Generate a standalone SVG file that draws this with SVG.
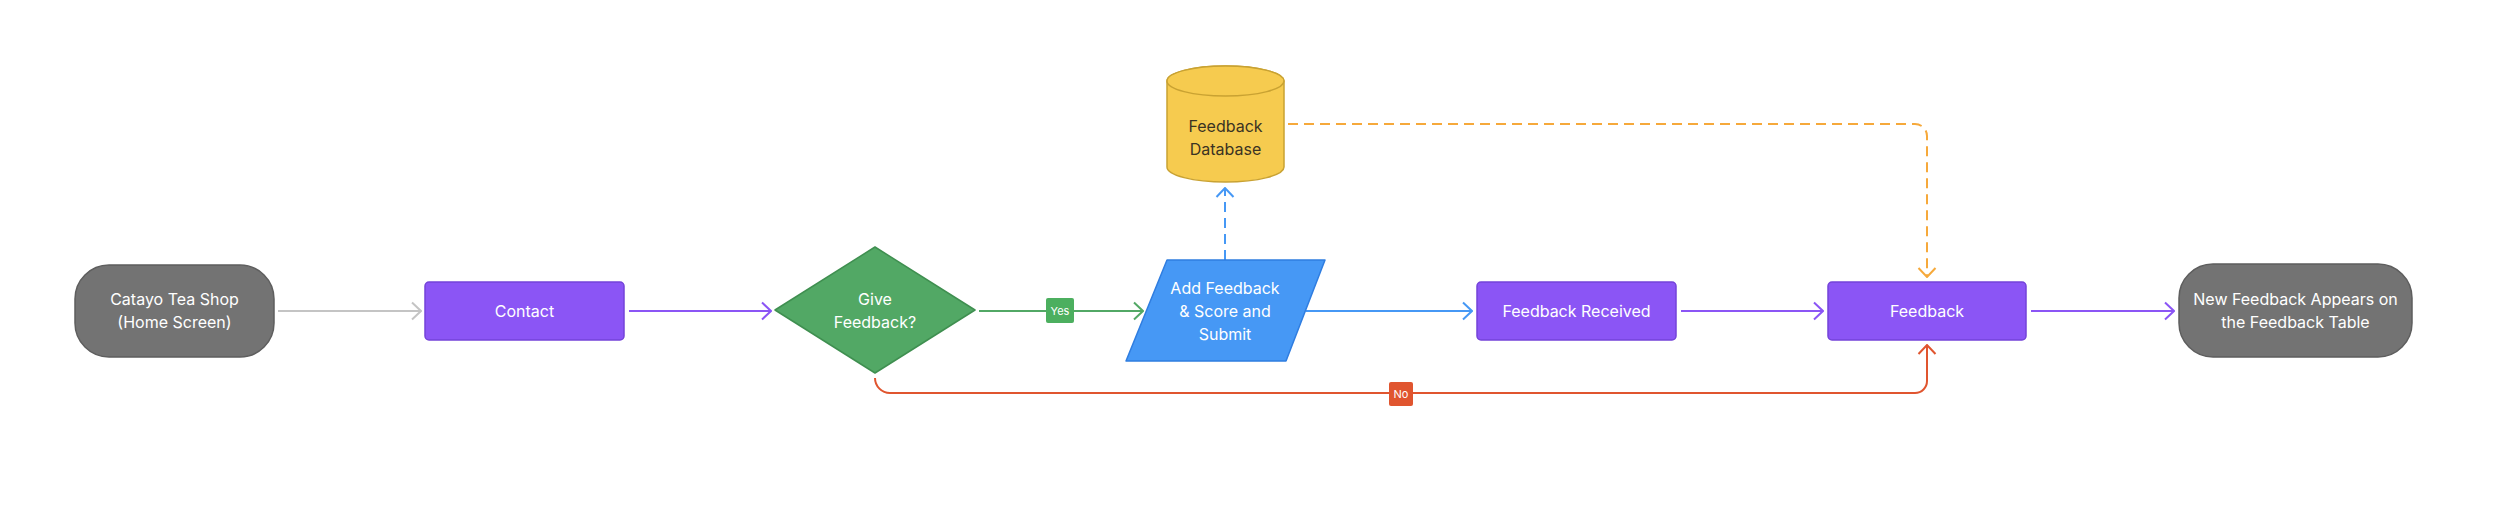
<svg xmlns="http://www.w3.org/2000/svg" width="2500" height="528" viewBox="0 0 2500 528">
<style>
  .bg { fill: #ffffff; }
  .t { font-family: Inter, "Liberation Sans", sans-serif; font-size: 16px; fill: #ffffff; text-anchor: middle; }
  .tdark { fill: #3b3323; }
  .lbl { font-family: Inter, "Liberation Sans", sans-serif; font-size: 11px; fill: #ffffff; text-anchor: middle; }
  .term { fill: #737373; stroke: #5e5e5e; stroke-width: 1.5; }
  .proc { fill: #8b55f5; stroke: #7443d9; stroke-width: 1.5; }
  .dec { fill: #52a865; stroke: #3f8f50; stroke-width: 1.5; stroke-linejoin: round; }
  .io { fill: #4698f5; stroke: #2f7de0; stroke-width: 1.5; stroke-linejoin: round; }
  .db { fill: #f6cb4f; stroke: #c9a232; stroke-width: 1.5; }
  .c { fill: none; stroke-width: 2; }
  .gray { stroke: #c4c4c4; }
  .purple { stroke: #8b55f5; }
  .green { stroke: #52a865; }
  .blue { stroke: #4698f5; }
  .orange { stroke: #f6a93b; }
  .red { stroke: #e0552f; }
  .dash { stroke-dasharray: 10 6; }
</style>
<defs>
  <marker id="ah-gray" viewBox="0 0 12 20" refX="11" refY="10" markerWidth="12" markerHeight="20" markerUnits="userSpaceOnUse" orient="auto"><path d="M2,1.5 L11,10 L2,18.5" fill="none" stroke="#c4c4c4" stroke-width="2"/></marker>
  <marker id="ah-purple" viewBox="0 0 12 20" refX="11" refY="10" markerWidth="12" markerHeight="20" markerUnits="userSpaceOnUse" orient="auto"><path d="M2,1.5 L11,10 L2,18.5" fill="none" stroke="#8b55f5" stroke-width="2"/></marker>
  <marker id="ah-green" viewBox="0 0 12 20" refX="11" refY="10" markerWidth="12" markerHeight="20" markerUnits="userSpaceOnUse" orient="auto"><path d="M2,1.5 L11,10 L2,18.5" fill="none" stroke="#52a865" stroke-width="2"/></marker>
  <marker id="ah-blue" viewBox="0 0 12 20" refX="11" refY="10" markerWidth="12" markerHeight="20" markerUnits="userSpaceOnUse" orient="auto"><path d="M2,1.5 L11,10 L2,18.5" fill="none" stroke="#4698f5" stroke-width="2"/></marker>
  <marker id="ah-orange" viewBox="0 0 12 20" refX="11" refY="10" markerWidth="12" markerHeight="20" markerUnits="userSpaceOnUse" orient="auto"><path d="M2,1.5 L11,10 L2,18.5" fill="none" stroke="#f6a93b" stroke-width="2"/></marker>
  <marker id="ah-red" viewBox="0 0 12 20" refX="11" refY="10" markerWidth="12" markerHeight="20" markerUnits="userSpaceOnUse" orient="auto"><path d="M2,1.5 L11,10 L2,18.5" fill="none" stroke="#e0552f" stroke-width="2"/></marker>
</defs>
<rect class="bg" x="0" y="0" width="2500" height="528"/>

<g id="connectors">
  <path class="c gray" d="M278,311 L421,311" marker-end="url(#ah-gray)"/>
  <path class="c purple" d="M629,311 L771,311" marker-end="url(#ah-purple)"/>
  <path class="c green" d="M979,311 L1143,311" marker-end="url(#ah-green)"/>
  <path class="c blue" d="M1306,311 L1472,311" marker-end="url(#ah-blue)"/>
  <path class="c blue dash" d="M1225,260 L1225,188" marker-end="url(#ah-blue)"/>
  <path class="c purple" d="M1681,311 L1823,311" marker-end="url(#ah-purple)"/>
  <path class="c orange dash" d="M1288,124 L1915,124 A12,12 0 0 1 1927,136 L1927,277" marker-end="url(#ah-orange)"/>
  <path class="c red" d="M875,378 A15,15 0 0 0 890,393 L1915,393 A12,12 0 0 0 1927,381 L1927,345" marker-end="url(#ah-red)"/>
  <path class="c purple" d="M2031,311 L2174,311" marker-end="url(#ah-purple)"/>
  <g id="label-yes">
    <rect x="1046" y="298" width="28" height="25" rx="2" fill="#4caf5f"/>
    <text class="lbl" x="1060" y="314.5">Yes</text>
  </g>
  <g id="label-no">
    <rect x="1389" y="382" width="24" height="24" rx="2" fill="#e0552f"/>
    <text class="lbl" x="1401" y="398">No</text>
  </g>
</g>

<g id="node-home">
  <rect class="term" x="75" y="265" width="199" height="92" rx="34"/>
  <text class="t" x="174.5" y="305">Catayo Tea Shop</text>
  <text class="t" x="174.5" y="328">(Home Screen)</text>
</g>

<g id="node-contact">
  <rect class="proc" x="425" y="282" width="199" height="58" rx="4"/>
  <text class="t" x="524.5" y="316.5">Contact</text>
</g>

<g id="node-decision">
  <polygon class="dec" points="875,247 975,310 875,373 775,310"/>
  <text class="t" x="875" y="305">Give</text>
  <text class="t" x="875" y="328">Feedback?</text>
</g>

<g id="node-add">
  <polygon class="io" points="1167,260 1325,260 1286,361 1126,361"/>
  <text class="t" x="1225" y="293.5">Add Feedback</text>
  <text class="t" x="1225" y="316.5">&amp; Score and</text>
  <text class="t" x="1225" y="339.5">Submit</text>
</g>

<g id="node-database">
  <path class="db" d="M1167,81 L1167,167 A58.5,15 0 0 0 1284,167 L1284,81 A58.5,15 0 0 0 1167,81 Z"/>
  <ellipse class="db" cx="1225.5" cy="81" rx="58.5" ry="15"/>
  <text class="t tdark" x="1225.5" y="132">Feedback</text>
  <text class="t tdark" x="1225.5" y="155">Database</text>
</g>

<g id="node-received">
  <rect class="proc" x="1477" y="282" width="199" height="58" rx="4"/>
  <text class="t" x="1576.5" y="316.5">Feedback Received</text>
</g>

<g id="node-feedback">
  <rect class="proc" x="1828" y="282" width="198" height="58" rx="4"/>
  <text class="t" x="1927" y="316.5">Feedback</text>
</g>

<g id="node-table">
  <rect class="term" x="2179" y="264" width="233" height="93" rx="34"/>
  <text class="t" x="2295.5" y="305">New Feedback Appears on</text>
  <text class="t" x="2295.5" y="328">the Feedback Table</text>
</g>
</svg>
